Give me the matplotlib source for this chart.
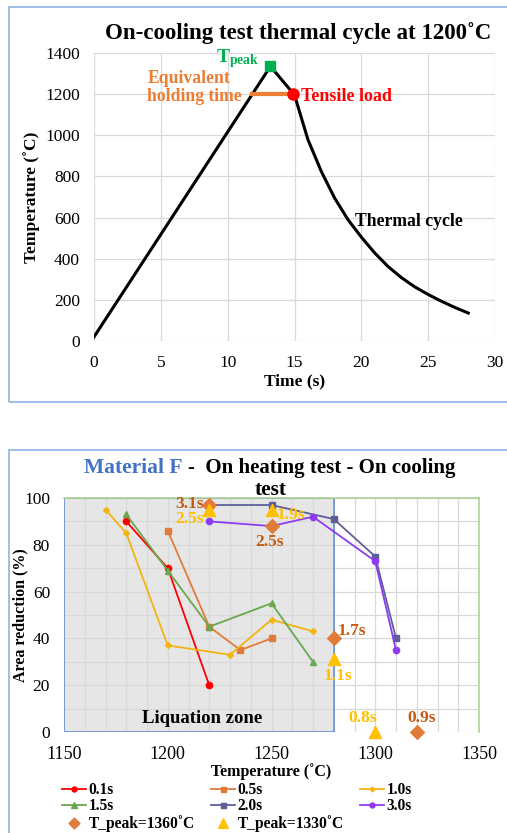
import numpy as np
import matplotlib
matplotlib.use("Agg")
import matplotlib.pyplot as plt
from matplotlib.patches import Rectangle

plt.rcParams['font.family'] = ['Liberation Serif', 'DejaVu Serif']
plt.rcParams['mathtext.fontset'] = 'custom'
plt.rcParams['mathtext.rm'] = 'Liberation Serif'
plt.rcParams['mathtext.bf'] = 'Liberation Serif:bold'

# --- thermal cycle (top) ---
cycle_time = [0, 13.2, 15, 16, 17, 18, 19, 20, 21, 22, 23, 24, 25, 26, 27, 28]
cycle_temp = [20, 1335, 1196, 980, 825, 695, 590, 505, 428, 362, 308, 263, 226, 193, 163, 136]
t_peak = (13.2, 1335)
hold_start, hold_end, hold_temp = 11.8, 14.9, 1200

# --- area reduction vs temperature (bottom) ---
series = {
    "0.1s": ([1180, 1200, 1220], [90, 70, 20]),
    "0.5s": ([1200, 1220, 1235, 1250], [86, 45, 35, 40]),
    "1.0s": ([1170, 1180, 1200, 1230, 1250, 1270], [95, 85, 37, 33, 48, 43]),
    "1.5s": ([1180, 1200, 1220, 1250, 1270], [93, 69, 45, 55, 30]),
    "2.0s": ([1220, 1250, 1280, 1300, 1310], [97, 97, 91, 75, 40]),
    "3.0s": ([1220, 1250, 1270, 1300, 1310], [90, 88, 92, 73, 35]),
}
series_style = {
    "0.1s": ("#FF0000", "o", 4.5),
    "0.5s": ("#E07B39", "s", 4.5),
    "1.0s": ("#F2B50F", "D", 3),
    "1.5s": ("#6AA84F", "^", 5),
    "2.0s": ("#5E5F99", "s", 4.5),
    "3.0s": ("#8E3CF0", "o", 4.5),
}
peak1360_temp = [1220, 1250, 1280, 1320]
peak1360_ar = [97, 88, 40, 0]
peak1360_lbl = ["3.1s", "2.5s", "1.7s", "0.9s"]
peak1330_temp = [1220, 1250, 1280, 1300]
peak1330_ar = [95, 95, 31, 0]
peak1330_lbl = ["2.5s", "1.9s", "1.1s", "0.8s"]

W, H = 507, 833
fig = plt.figure(figsize=(W / 100, H / 100), dpi=100)


def box(x0, y0, x1, y1):
    return [x0 / W, 1 - y1 / H, (x1 - x0) / W, (y1 - y0) / H]


frame_col = "#8FB4E3"
fig.patches.append(Rectangle((9 / W, 1 - 402 / H), 1.0, (402 - 7) / H,
                             transform=fig.transFigure, fill=False,
                             edgecolor=frame_col, lw=1.2))
fig.patches.append(Rectangle((9 / W, -0.1), 1.0, 0.1 + (833 - 450) / H,
                             transform=fig.transFigure, fill=False,
                             edgecolor=frame_col, lw=1.2))

grid_col = "#D9D9D9"

# ================= top chart =================
ax1 = fig.add_axes(box(94, 53, 495, 341))
ax1.plot(cycle_time, cycle_temp, color="black", lw=2.2, zorder=3)
ax1.plot([hold_start, hold_end], [hold_temp, hold_temp], color="#ED7D31", lw=3, zorder=4)
ax1.plot(*t_peak, marker="s", color="#00B050", ms=6.5, zorder=5)
ax1.plot(hold_end, hold_temp, marker="o", color="#FF0000", ms=8, zorder=5)
ax1.set_xlim(0, 30)
ax1.set_ylim(0, 1400)
ax1.set_xticks(np.arange(0, 31, 5))
ax1.set_yticks(np.arange(0, 1401, 200))
ax1.grid(True, color=grid_col, lw=0.9)
ax1.set_axisbelow(True)
for s in ax1.spines.values():
    s.set_visible(False)
ax1.tick_params(length=0, labelsize=12.5, pad=10)
ax1.set_xlabel("Time (s)", fontsize=12.5, fontweight="bold", labelpad=2)
ax1.set_ylabel("Temperature (˚C)", fontsize=12.5, fontweight="bold")
ax1.yaxis.set_label_coords(-(94 - 40) / 401, 0.5)
fig.text(298 / W, 1 - 33 / H, "On-cooling test thermal cycle at 1200˚C",
         ha="center", va="center", fontsize=16.5, fontweight="bold")

ax1.text(12.4, 1372, r"$\mathbf{T_{peak}}$", color="#00B050", fontsize=14,
         ha="right", va="center")
ax1.text(4.0, 1232, "Equivalent\nholding time", color="#ED7D31", fontsize=12.7,
         fontweight="bold", ha="left", va="center", linespacing=1.1)
ax1.text(15.5, 1190, "Tensile load", color="#FF0000", fontsize=13,
         fontweight="bold", ha="left", va="center")
ax1.text(19.5, 583, "Thermal cycle", color="black", fontsize=12.7,
         fontweight="bold", ha="left", va="center")

# ================= bottom chart =================
ax2 = fig.add_axes(box(64, 498, 479, 732))
ax2.add_patch(Rectangle((1150, 0), 130, 100, facecolor="#E6E6E6",
                        edgecolor="none", zorder=0.1))
ax2.add_patch(Rectangle((1150, 0), 130, 100, fill=False,
                        edgecolor="#6F96D1", lw=1.3, zorder=1.5))
ax2.text(1216.5, 5.8, "Liquation zone", fontsize=13.5, fontweight="bold",
         ha="center", va="center")

handles = {}
for name, (xs, ys) in series.items():
    col, mk, ms = series_style[name]
    h, = ax2.plot(xs, ys, color=col, marker=mk, ms=ms, lw=1.3, zorder=3)
    handles[name] = h

h1360 = ax2.scatter(peak1360_temp, peak1360_ar, marker="D", s=48,
                    color="#E07B39", zorder=4, clip_on=False)
h1330 = ax2.scatter(peak1330_temp, peak1330_ar, marker="^", s=75,
                    color="#FFC000", zorder=4, clip_on=False)

orange_txt, yellow_txt = "#C55A11", "#FFC000"
lbl_kw = dict(fontsize=12.5, fontweight="bold", va="center")
# T_peak = 1360 labels
ax2.text(1217.5, 97.5, peak1360_lbl[0], color=orange_txt, ha="right", **lbl_kw)
ax2.text(1249, 81, peak1360_lbl[1], color=orange_txt, ha="center", **lbl_kw)
ax2.text(1282, 43, peak1360_lbl[2], color=orange_txt, ha="left", **lbl_kw)
ax2.text(1322.5, 6, peak1360_lbl[3], color=orange_txt, ha="center", **lbl_kw)
# T_peak = 1330 labels
ax2.text(1217.5, 91, peak1330_lbl[0], color=yellow_txt, ha="right", **lbl_kw)
ax2.text(1252.5, 92.7, peak1330_lbl[1], color=yellow_txt, ha="left", **lbl_kw)
ax2.text(1282, 24, peak1330_lbl[2], color=yellow_txt, ha="center", **lbl_kw)
ax2.text(1294, 6, peak1330_lbl[3], color=yellow_txt, ha="center", **lbl_kw)

ax2.set_xlim(1150, 1350)
ax2.set_ylim(0, 100)
ax2.set_xticks(np.arange(1150, 1351, 50))
ax2.set_yticks(np.arange(0, 101, 20))
ax2.set_xticks(np.arange(1150, 1351, 10), minor=True)
ax2.set_yticks(np.arange(0, 101, 10), minor=True)
ax2.grid(True, which="both", color=grid_col, lw=0.9)
ax2.set_axisbelow(True)
for side in ("left", "bottom"):
    ax2.spines[side].set_visible(False)
for side in ("top", "right"):
    ax2.spines[side].set_color("#A9D18E")
    ax2.spines[side].set_linewidth(1.1)
ax2.tick_params(which="both", length=0, pad=10)
ax2.tick_params(axis="x", labelsize=13)
ax2.tick_params(axis="y", labelsize=12.5)
ax2.set_xlabel("Temperature (˚C)", fontsize=11.5, fontweight="bold", labelpad=0)
ax2.set_ylabel("Area reduction (%)", fontsize=11.5, fontweight="bold")
ax2.yaxis.set_label_coords(-(64 - 28) / 415, 0.5)

fig.text(183 / W, 1 - 468 / H, "Material F", color="#4472C4", fontsize=15.5,
         fontweight="bold", ha="right", va="center")
fig.text(188 / W, 1 - 468 / H, "-  On heating test - On cooling", fontsize=15,
         fontweight="bold", ha="left", va="center")
fig.text(271 / W, 1 - 490 / H, "test", fontsize=15.5, fontweight="bold",
         ha="center", va="center")

order = [handles["0.1s"], handles["1.5s"], h1360,
         handles["0.5s"], handles["2.0s"], h1330,
         handles["1.0s"], handles["3.0s"]]
labels = ["0.1s", "1.5s", "T_peak=1360˚C", "0.5s", "2.0s", "T_peak=1330˚C",
          "1.0s", "3.0s"]
leg = fig.legend(order, labels, ncol=3, loc="upper left",
                 bbox_to_anchor=(62 / W, 1 - 782 / H), frameon=False,
                 prop={"weight": "bold", "size": 11.2}, handlelength=1.55,
                 handletextpad=0.15, columnspacing=1.05, labelspacing=0.02,
                 borderaxespad=0, borderpad=0, markerscale=0.8)

fig.savefig("out.png", dpi=100)
